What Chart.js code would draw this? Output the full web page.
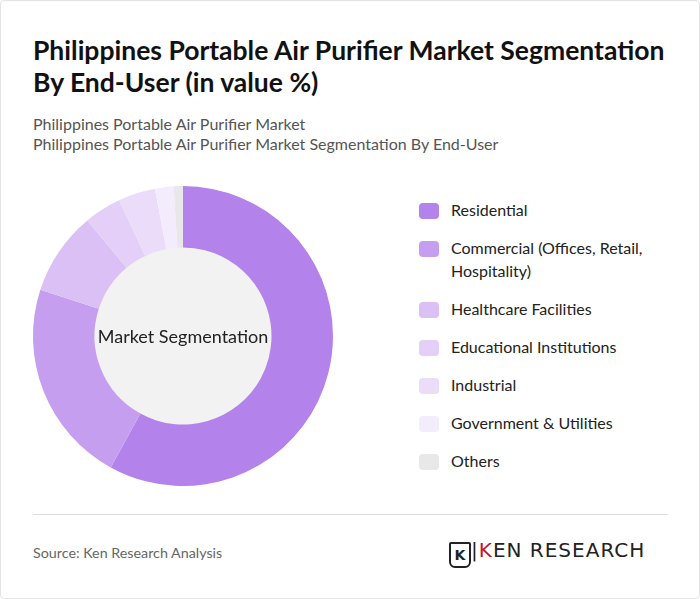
<!DOCTYPE html>
<html>
<head>
<meta charset="utf-8">
<script src="https://cdn.jsdelivr.net/npm/chart.js@4/dist/chart.umd.min.js"></script>
<style>
  body { margin: 0; background: #fff; font-family: Lato, "Noto Sans", sans-serif; }
  .card { position: relative; width: 698px; height: 597px; border: 1px solid #e4e4e4; border-radius: 4px; }
  h1 { position: absolute; left: 32px; top: 33px; margin: 0; font-size: 26.5px; line-height: 32px; font-weight: 700; color: #111; width: 645px; }
  .sub { position: absolute; left: 32px; top: 113px; font-size: 16px; line-height: 20px; color: #555; }
  #wrap { position: absolute; left: 17px; top: 180px; width: 330px; height: 310px; }
  .center { position: absolute; left: 82px; top: 335px; width: 200px; text-align: center; transform: translateY(-50%); font-size: 18px; color: #222; }
  .legend { position: absolute; left: 418px; top: 197px; font-size: 16px; color: #222; }
  .item { position: relative; padding-left: 32px; line-height: 23px; }
  .sw { position: absolute; left: 0; top: 5px; width: 20px; height: 16px; border-radius: 4px; }
  hr { position: absolute; left: 32px; top: 513px; width: 635px; margin: 0; border: 0; border-top: 1px solid #ddd; }
  .src { position: absolute; left: 32px; top: 543px; font-size: 14.3px; color: #666; }
  .logo { position: absolute; left: 448px; top: 537px; font-family: "DejaVu Sans", sans-serif; font-size: 20px; color: #222; letter-spacing: 1px; }
</style>
</head>
<body>
<div class="card">
  <h1>Philippines Portable Air Purifier Market Segmentation By End-User (in value %)</h1>
  <div class="sub">Philippines Portable Air Purifier Market<br>Philippines Portable Air Purifier Market Segmentation By End-User</div>
  <div id="wrap"><canvas id="pie"></canvas></div>
  <div class="center">Market Segmentation</div>
  <div class="legend" id="legend"></div>
  <hr>
  <div class="src">Source: Ken Research Analysis</div>
  <div class="logo"><span style="display:inline-block;width:18px;height:22px;border:2px solid #222;border-radius:2px 2px 6px 6px;font-size:14px;text-align:center;line-height:22px;vertical-align:-3px;font-weight:bold;letter-spacing:0">K</span>|<span style="color:#c8102e">K</span>EN RESEARCH</div>
</div>
<script>
const labels = ['Residential', 'Commercial (Offices, Retail, Hospitality)', 'Healthcare Facilities', 'Educational Institutions', 'Industrial', 'Government & Utilities', 'Others'];
const values = [58, 22, 9, 4, 4, 2, 1];
const colors = ['#b382ea', '#c69ef0', '#dbc0f6', '#e3cff8', '#ebdcfa', '#f3ecfd', '#e8e8e8'];

const legendEl = document.getElementById('legend');
labels.forEach((l, i) => {
    const d = document.createElement('div');
    d.className = 'item';
    d.style.marginBottom = '15px';
    const text = i === 1 ? 'Commercial (Offices, Retail,<br>Hospitality)' : l.replace('&', '&amp;');
    d.innerHTML = `<span class="sw" style="background:${colors[i]}"></span>${text}`;
    legendEl.appendChild(d);
});

// preenche o miolo do donut
const centerFill = {
    id: 'centerFill',
    beforeDatasetsDraw(chart) {
        const arc = chart.getDatasetMeta(0).data[0];
        if (!arc) return;
        const ctx = chart.ctx;
        ctx.save();
        ctx.shadowColor = 'rgba(0,0,0,0.12)';
        ctx.shadowBlur = 6;
        ctx.fillStyle = '#f2f2f2';
        ctx.beginPath();
        ctx.arc(arc.x, arc.y, arc.innerRadius, 0, Math.PI * 2);
        ctx.fill();
        ctx.restore();
    }
};

new Chart(document.getElementById('pie'), {
    type: 'doughnut',
    data: {
        labels,
        datasets: [{
            data: values,
            backgroundColor: colors,
            borderWidth: 0
        }]
    },
    options: {
        responsive: true,
        maintainAspectRatio: false,
        animation: false,
        cutout: '59%',
        layout: { padding: 5 },
        plugins: { legend: { display: false }, tooltip: { enabled: false } }
    },
    plugins: [centerFill]
});
</script>
</body>
</html>
